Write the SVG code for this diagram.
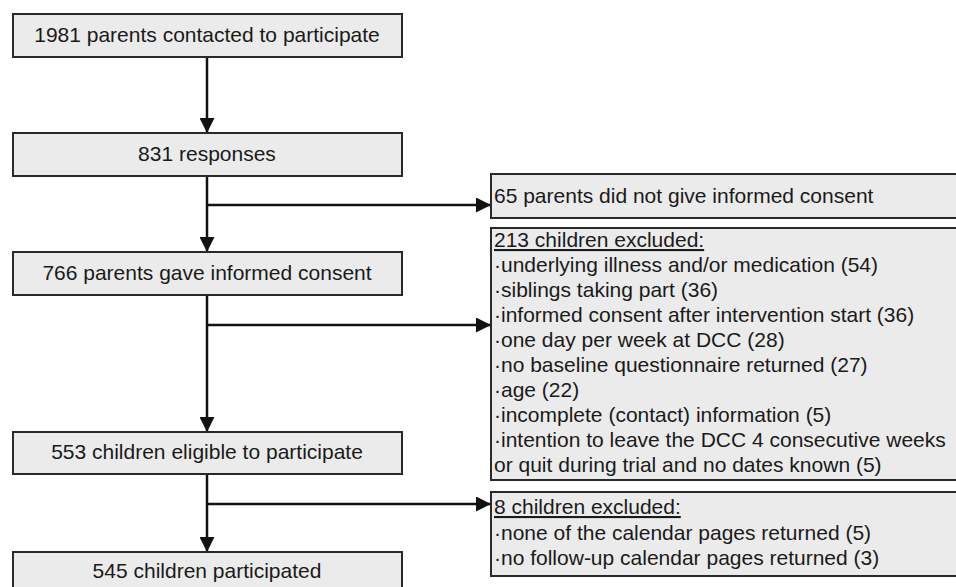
<svg xmlns="http://www.w3.org/2000/svg" width="956" height="587" viewBox="0 0 956 587">
<style>
.box{fill:#ebebeb;stroke:#2a2a2a;stroke-width:2}
.t{font-family:"Liberation Sans",Arial,sans-serif;font-size:21px;fill:#1a1a1a}
.c{text-anchor:middle}
.u{text-decoration:underline}
.ln{fill:none;stroke:#111;stroke-width:2.5}
</style>
<defs>
<marker id="ah" viewBox="0 0 10 10" refX="10" refY="5" markerWidth="15" markerHeight="15" markerUnits="userSpaceOnUse" orient="auto">
<path d="M0,0 L10,5 L0,10 z" fill="#111"/>
</marker>
</defs>
<rect width="956" height="587" fill="#fff"/>
<g id="connectors">
<line class="ln" x1="207" y1="57" x2="207" y2="133" marker-end="url(#ah)"/>
<line class="ln" x1="207" y1="176" x2="207" y2="252" marker-end="url(#ah)"/>
<line class="ln" x1="207" y1="205" x2="491" y2="205" marker-end="url(#ah)"/>
<line class="ln" x1="207" y1="295" x2="207" y2="432" marker-end="url(#ah)"/>
<line class="ln" x1="207" y1="325" x2="491" y2="325" marker-end="url(#ah)"/>
<line class="ln" x1="207" y1="474" x2="207" y2="552" marker-end="url(#ah)"/>
<line class="ln" x1="207" y1="504" x2="491" y2="504" marker-end="url(#ah)"/>
</g>
<g id="n1"><rect class="box" x="13" y="14" width="389" height="43"/><text class="t c" x="207" y="42">1981 parents contacted to participate</text></g>
<g id="n2"><rect class="box" x="13" y="133" width="389" height="43"/><text class="t c" x="207" y="161">831 responses</text></g>
<g id="n3"><rect class="box" x="13" y="252" width="389" height="43"/><text class="t c" x="207" y="280">766 parents gave informed consent</text></g>
<g id="n4"><rect class="box" x="13" y="432" width="389" height="42"/><text class="t c" x="207" y="459">553 children eligible to participate</text></g>
<g id="n5"><rect class="box" x="13" y="552" width="389" height="43"/><text class="t c" x="207" y="578">545 children participated</text></g>
<g id="r1"><rect class="box" x="491" y="174" width="470" height="44"/><text class="t" x="494" y="203">65 parents did not give informed consent</text></g>
<g id="r2"><rect class="box" x="491" y="228" width="470" height="252"/>
<text class="t u" x="494" y="247">213 children excluded:</text>
<text class="t" x="494" y="272">·underlying illness and/or medication (54)</text>
<text class="t" x="494" y="297">·siblings taking part (36)</text>
<text class="t" x="494" y="322">·informed consent after intervention start (36)</text>
<text class="t" x="494" y="347">·one day per week at DCC (28)</text>
<text class="t" x="494" y="372">·no baseline questionnaire returned (27)</text>
<text class="t" x="494" y="397">·age (22)</text>
<text class="t" x="494" y="422">·incomplete (contact) information (5)</text>
<text class="t" x="494" y="447">·intention to leave the DCC 4 consecutive weeks</text>
<text class="t" x="494" y="472">or quit during trial and no dates known (5)</text>
</g>
<g id="r3"><rect class="box" x="491" y="492" width="470" height="84"/>
<text class="t u" x="494" y="514">8 children excluded:</text>
<text class="t" x="494" y="540">·none of the calendar pages returned (5)</text>
<text class="t" x="494" y="565">·no follow-up calendar pages returned (3)</text>
</g>
</svg>
